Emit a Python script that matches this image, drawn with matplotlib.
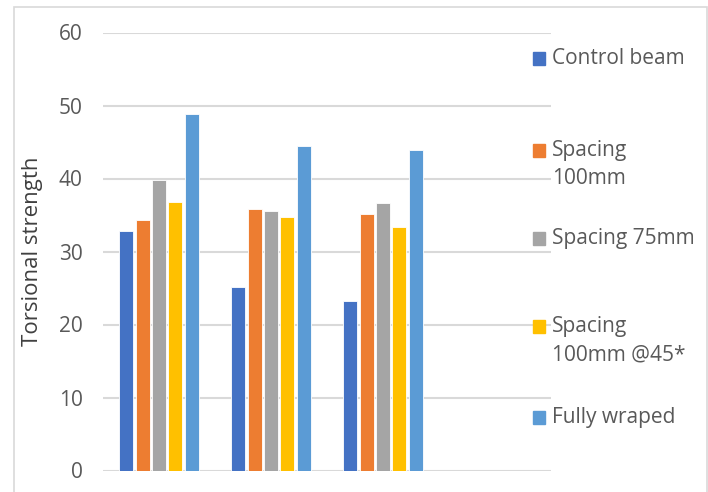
import matplotlib.pyplot as plt
import numpy as np
from matplotlib.patches import Rectangle

plt.rcParams['font.family'] = ['Open Sans', 'DejaVu Sans']

# torsional strength per beam series, three test groups
groups = ["1", "2", "3", ""]
series = ["Control beam", "Spacing\n100mm", "Spacing 75mm", "Spacing\n100mm @45*", "Fully wraped"]
control = [32.8, 25.2, 23.2]
spacing_100 = [34.3, 35.8, 35.2]
spacing_75 = [39.8, 35.6, 36.7]
spacing_100_45 = [36.8, 34.7, 33.4]
fully_wrapped = [48.9, 44.4, 43.9]
colors = ["#4472C4", "#ED7D31", "#A5A5A5", "#FFC000", "#5B9BD5"]

values = [control, spacing_100, spacing_75, spacing_100_45, fully_wrapped]

W, H = 708, 492
fig = plt.figure(figsize=(W / 100, H / 100), dpi=100)
fig.patch.set_facecolor("white")

# thin chart border
fig.add_artist(Rectangle((13.5 / W, -0.01), (W - 15) / W, 1 - 7 / H + 0.01,
                         transform=fig.transFigure, fill=False,
                         edgecolor="#D9D9D9", lw=1.2))

left, right, top, bottom = 103, 551, 32.5, 470.5
ax = fig.add_axes([left / W, 1 - bottom / H, (right - left) / W, (bottom - top) / H])

x = np.arange(len(groups))
slot = 0.147
bw = 0.125
for i, (vals, c) in enumerate(zip(values, colors)):
    pos = x[:len(vals)] + (i - 2) * slot
    ax.bar(pos, vals, width=bw, color=c, edgecolor="white", linewidth=0.6, zorder=3)

ax.set_xlim(-0.5, len(groups) - 0.5)
ax.set_ylim(0, 60)
ax.set_yticks(range(0, 61, 10))
ax.set_xticks([])
ax.grid(axis="y", color="#D9D9D9", lw=1.5, zorder=0)
for s in ax.spines.values():
    s.set_visible(False)
ax.tick_params(axis="y", length=0, pad=14.5, labelsize=15, labelcolor="#595959")
ax.set_ylabel("Torsional strength", fontsize=16, color="#404040", va="center")
ax.yaxis.set_label_coords((33 - left) / (right - left), 0.5)

# legend, entries stacked down the right side
legend_y = [58.5, 150.5, 238.5, 326.7, 417]
for name, c, yy in zip(series, colors, legend_y):
    fig.add_artist(Rectangle((532.5 / W, 1 - (yy + 6.5) / H), 12.5 / W, 13 / H,
                             transform=fig.transFigure, color=c))
    fig.text(552 / W, 1 - (yy - 10.5) / H, name, fontsize=15, color="#595959",
             ha="left", va="top", linespacing=1.46)

fig.savefig("out.png", dpi=100)
